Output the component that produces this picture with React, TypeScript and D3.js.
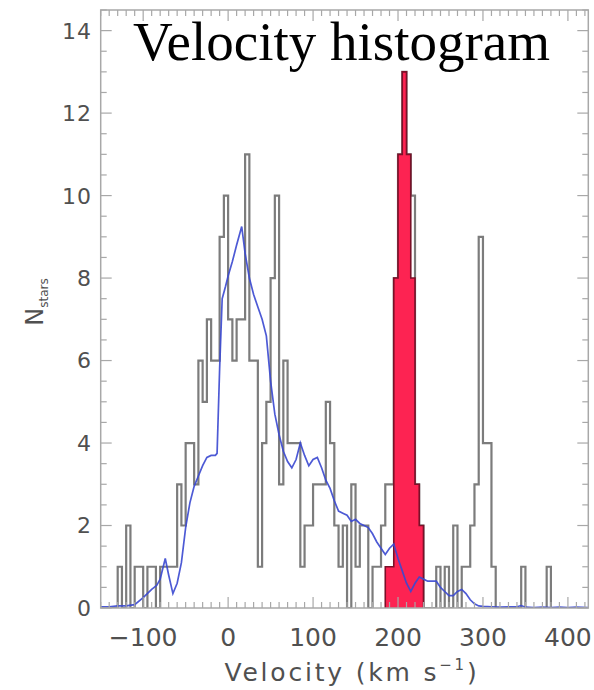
import React from 'react';
import * as d3 from 'd3';

// Histogram of all stars: 5 km/s bins starting at -150 km/s
const binStart = -150;
const binWidth = 5;
const allCounts = [
  0, 0, 0, 0, 1, 0, 2, 0, 1, 1,
  0, 1, 1, 0, 1, 1, 1, 1, 3, 2,
  4, 4, 3, 6, 5, 7, 6, 6, 9, 10,
  7, 6, 7, 7, 11, 6, 6, 1, 4, 5,
  8, 10, 3, 6, 4, 4, 4, 1, 2, 2,
  3, 3, 3, 5, 4, 2, 1, 2, 0, 3,
  1, 2, 2, 0, 1, 1, 2, 3, 3, 8,
  11, 13, 11, 10, 3, 2, 0, 0, 0, 1,
  0, 1, 0, 2, 0, 1, 1, 2, 3, 9,
  4, 4, 1, 0, 0, 0, 0, 0, 0, 1,
  0, 0, 0, 0, 0, 1, 0, 0, 0, 0,
  0, 0, 0, 0, 0,
];

// Selected (red) subset
const redStart = 185;
const redCounts = [1, 1, 8, 11, 13, 11, 8, 3, 2];

// Model curve (blue)
const modelV = [
  -150, -140, -130, -120, -110, -100, -90, -84, -80, -74, -70, -65, -60, -55, -50, -45, -40, -35, -30, -25,
  -20, -15, -13, -10, -7, -3, 0, 5, 10, 16, 20, 25, 30, 35, 40, 45, 50, 55, 60, 65,
  70, 75, 80, 85, 90, 95, 100, 105, 110, 115, 120, 125, 130, 135, 140, 145, 150, 155, 160, 165,
  170, 175, 180, 185, 190, 195, 200, 205, 210, 215, 220, 225, 230, 235, 240, 245, 250, 255, 260, 265,
  270, 275, 280, 285, 290, 295, 300, 310, 320, 330, 340, 345, 350, 360, 370, 380, 390, 400, 410, 424,
];
const modelN = [
  0.03, 0.03, 0.05, 0.05, 0.08, 0.25, 0.45, 0.55, 0.7, 1.2, 0.8, 0.35, 0.6, 1.1, 1.95, 2.55, 2.95, 3.2, 3.45, 3.65,
  3.7, 3.7, 3.75, 5.8, 7.5, 7.8, 8.05, 8.4, 8.8, 9.25, 8.6, 8.0, 7.6, 7.3, 7.0, 6.6, 5.5, 4.7, 4.2, 3.8,
  3.55, 3.4, 3.6, 4.0, 3.7, 3.45, 3.6, 3.65, 3.4, 3.1, 2.9, 2.6, 2.35, 2.3, 2.25, 2.1, 2.15, 2.05, 2.0, 1.95,
  1.8, 1.6, 1.45, 1.3, 1.45, 1.55, 1.2, 0.9, 0.6, 0.4, 0.6, 0.75, 0.7, 0.65, 0.65, 0.65, 0.5, 0.4, 0.3, 0.3,
  0.4, 0.45, 0.35, 0.2, 0.1, 0.05, 0.04, 0.03, 0.02, 0.03, 0.03, 0.06, 0.02, 0.01, 0.02, 0.01, 0.02, 0.01, 0.02, 0.01,
];

const xTicks = [-100, 0, 100, 200, 300, 400];
const yTicks = [0, 2, 4, 6, 8, 10, 12, 14];
const titleText = 'Velocity histogram';

const W = 594;
const H = 690;

function stepPoints(start: number, counts: number[]): [number, number][] {
  const pts: [number, number][] = [[start, 0]];
  counts.forEach((c, i) => pts.push([start + i * binWidth, c]));
  const end = start + counts.length * binWidth;
  pts.push([end, counts[counts.length - 1]]);
  pts.push([end, 0]);
  return pts;
}

export default function App() {
  const x = d3.scaleLinear().domain([-150, 424]).range([100.7, 588.3]);
  const y = d3.scaleLinear().domain([0, 14.5]).range([608, 10]);
  const [L, R] = x.range();
  const [B, T] = y.range();

  const step = d3
    .line<[number, number]>()
    .x((d) => x(d[0]))
    .y((d) => y(d[1]))
    .curve(d3.curveStepAfter);
  const modelLine = d3
    .line<number>()
    .x((_, i) => x(modelV[i]))
    .y((d) => y(d));

  const grayPath = step(stepPoints(binStart, allCounts)) || '';
  const redPath = step(stepPoints(redStart, redCounts)) || '';
  const bluePath = modelLine(modelN) || '';

  const xMinor = d3.range(-150, 424.1, 10);
  const yMinor = d3.range(0, 14.51, 0.5);
  const axisCol = '#a8a8a8';
  const labelCol = '#505050';

  return (
    <svg
      width={W}
      height={H}
      viewBox={`0 0 ${W} ${H}`}
      style={{ position: 'absolute', left: 0, top: 0, background: '#fff' }}
    >
      <defs>
        <clipPath id="plotClip">
          <rect x={L} y={T} width={R - L} height={B - T} />
        </clipPath>
      </defs>
      <rect x={0} y={0} width={W} height={H} fill="#fff" />

      <g clipPath="url(#plotClip)">
        <path d={grayPath} fill="none" stroke="#7c7c7c" strokeWidth={2.2} />
        <path d={redPath} fill="#fd2352" stroke="#7a1028" strokeWidth={1.6} />
        <path d={bluePath} fill="none" stroke="#3a48d0" strokeWidth={1.7} strokeOpacity={0.9} />
      </g>

      {/* frame */}
      <rect x={L} y={T} width={R - L} height={B - T} fill="none" stroke={axisCol} strokeWidth={1.5} />

      {/* x ticks bottom & top */}
      {xMinor.map((v) => {
        const major = xTicks.includes(v);
        const len = major ? 11 : 6;
        return (
          <g key={`xm${v}`} stroke={axisCol} strokeWidth={1.2}>
            <line x1={x(v)} x2={x(v)} y1={B} y2={B - len} />
            <line x1={x(v)} x2={x(v)} y1={T} y2={T + len} />
          </g>
        );
      })}
      {/* y ticks left & right */}
      {yMinor.map((v) => {
        const major = yTicks.includes(v);
        const len = major ? 11 : 6;
        return (
          <g key={`ym${v}`} stroke={axisCol} strokeWidth={1.2}>
            <line x1={L} x2={L + len} y1={y(v)} y2={y(v)} />
            <line x1={R} x2={R - len} y1={y(v)} y2={y(v)} />
          </g>
        );
      })}

      {/* x tick labels */}
      {xTicks.map((v) => (
        <text
          key={`xl${v}`}
          x={x(v)}
          y={646}
          textAnchor="middle"
          fontFamily="DejaVu Sans"
          fontSize={25}
          fill={labelCol}
        >
          {v < 0 ? `\u2212${Math.abs(v)}` : `${v}`}
        </text>
      ))}
      {/* y tick labels */}
      {yTicks.map((v) => (
        <text
          key={`yl${v}`}
          x={92}
          y={y(v)}
          dy="0.36em"
          textAnchor="end"
          fontFamily="DejaVu Sans"
          fontSize={22}
          letterSpacing={1}
          fill={labelCol}
        >
          {v}
        </text>
      ))}

      {/* x axis title */}
      <text
        x={352}
        y={681}
        textAnchor="middle"
        fontFamily="DejaVu Sans"
        fontSize={25}
        letterSpacing={2.8}
        fill={labelCol}
      >
        Velocity (km s
        <tspan fontSize={15} dy={-11}>
          {'\u22121'}
        </tspan>
        <tspan dy={11}>)</tspan>
      </text>

      {/* y axis title */}
      <text
        transform="translate(43,302) rotate(-90)"
        textAnchor="middle"
        fontFamily="DejaVu Sans"
        fontSize={24}
        fill={labelCol}
      >
        N
        <tspan fontSize={12} dy={5}>
          stars
        </tspan>
      </text>

      {/* title */}
      <text x={133} y={60} fontFamily="Liberation Serif" fontSize={55} fill="#000">
        {titleText}
      </text>
    </svg>
  );
}
